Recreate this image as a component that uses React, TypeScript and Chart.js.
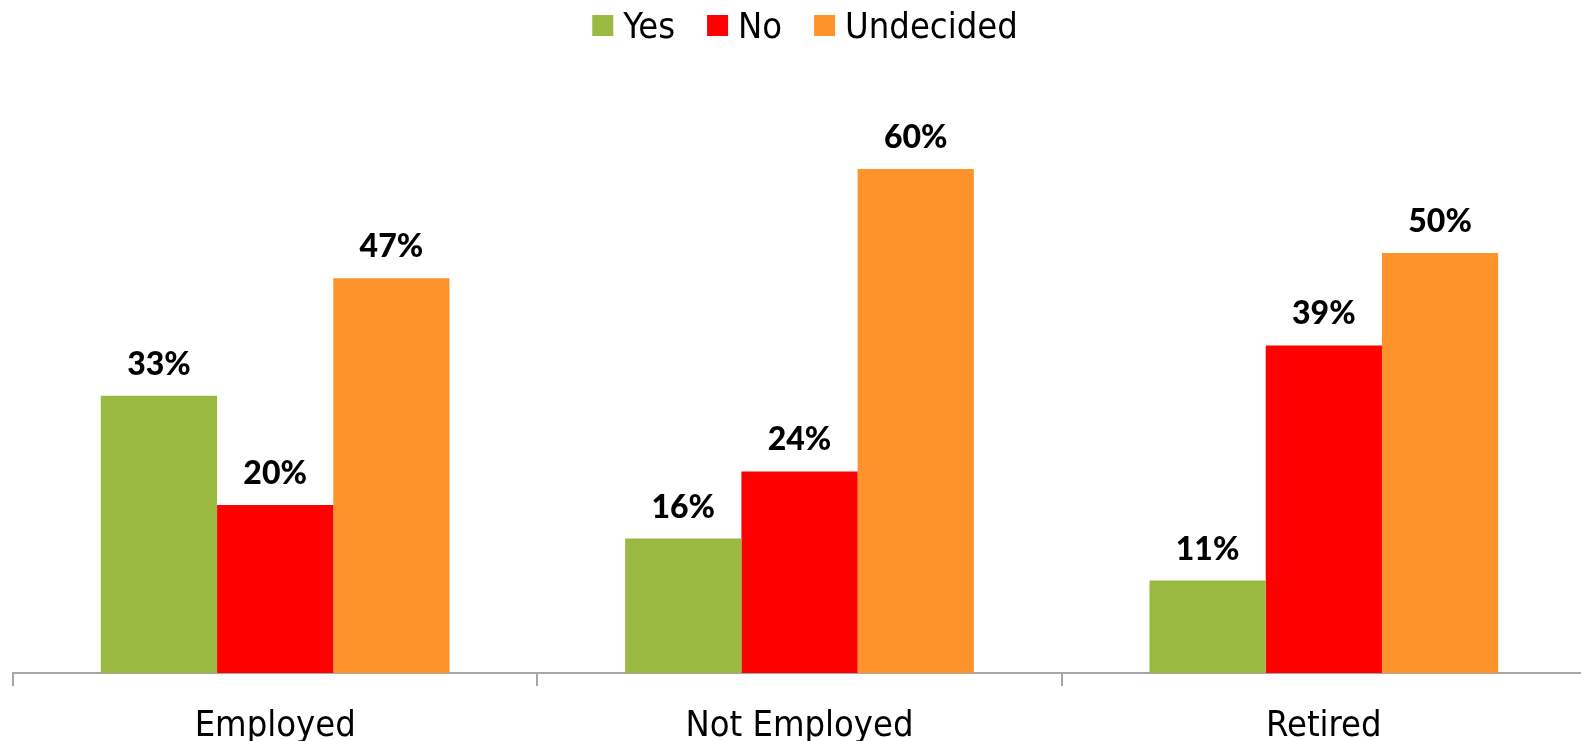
import { useEffect, useRef } from "react";
import { Chart, registerables } from "chart.js";

Chart.register(...registerables);

const categories = ["Employed", "Not Employed", "Retired"];
const seriesNames = ["Yes", "No", "Undecided"];
const yesValues = [33, 16, 11];
const noValues = [20, 24, 39];
const undecidedValues = [47, 60, 50];
const seriesColors = ["#99b940", "#ff0000", "#ff932b"];

const AXIS_FONT = "'DejaVu Sans Condensed', 'DejaVu Sans', sans-serif";
const LABEL_FONT = "Lato, 'Noto Sans', sans-serif";
const VIEW_W = 1581;
const VIEW_H = 741;
const CANVAS_W = 1586;
const CANVAS_H = 760;
const AREA_BOTTOM = 673;
const LEGEND_CENTER_X = 805;

const legendPlugin = {
  id: "customLegend",
  afterDraw(chart: any) {
    const ctx = chart.ctx as CanvasRenderingContext2D;
    ctx.save();
    ctx.font = `36px ${AXIS_FONT}`;
    const box = 21;
    const gapText = 10;
    const gapItem = 32;
    const items = chart.data.datasets.map((ds: any) => ({
      label: ds.label as string,
      color: ds.backgroundColor as string,
      w: box + gapText + ctx.measureText(ds.label).width,
    }));
    const total =
      items.reduce((s: number, i: any) => s + i.w, 0) + gapItem * (items.length - 1);
    let x = LEGEND_CENTER_X - total / 2;
    const baseline = 38;
    for (const it of items) {
      ctx.fillStyle = it.color;
      ctx.fillRect(x, 15, box, box);
      ctx.fillStyle = "#000";
      ctx.textBaseline = "alphabetic";
      ctx.textAlign = "left";
      ctx.fillText(it.label, x + box + gapText, baseline);
      x += it.w + gapItem;
    }
    ctx.restore();
  },
};

const dataLabelPlugin = {
  id: "dataLabels",
  afterDatasetsDraw(chart: any) {
    const ctx = chart.ctx as CanvasRenderingContext2D;
    ctx.save();
    ctx.font = `900 32px ${LABEL_FONT}`;
    ctx.fillStyle = "#000";
    ctx.textAlign = "center";
    ctx.textBaseline = "alphabetic";
    chart.data.datasets.forEach((ds: any, di: number) => {
      const meta = chart.getDatasetMeta(di);
      meta.data.forEach((bar: any, i: number) => {
        ctx.fillText(`${ds.data[i]}%`, bar.x, bar.y - 21);
      });
    });
    ctx.restore();
  },
};

export default function App() {
  const ref = useRef<HTMLCanvasElement>(null);
  useEffect(() => {
    if (!ref.current) return;
    const seriesValues = [yesValues, noValues, undecidedValues];
    const chart = new Chart(ref.current, {
      type: "bar",
      data: {
        labels: categories,
        datasets: seriesNames.map((name, i) => ({
          label: name,
          data: seriesValues[i],
          backgroundColor: seriesColors[i],
          borderWidth: 0,
          barPercentage: 1,
          categoryPercentage: 0.665,
        })),
      },
      options: {
        responsive: false,
        animation: false,
        layout: { padding: { top: 85, left: 13, right: 0, bottom: 0 } },
        plugins: {
          legend: { display: false },
          tooltip: { enabled: false },
        },
        scales: {
          x: {
            z: 1,
            border: { display: true, color: "#a6a6a6", width: 2 },
            grid: {
              display: true,
              drawOnChartArea: false,
              drawTicks: true,
              tickLength: 13,
              color: "#a6a6a6",
              lineWidth: 2,
            },
            ticks: {
              color: "#000",
              font: { family: AXIS_FONT, size: 36 },
              padding: 19,
              maxRotation: 0,
              autoSkip: false,
            },
            afterFit: (scale: any) => {
              scale.height = CANVAS_H - AREA_BOTTOM;
            },
          },
          y: {
            display: false,
            min: 0,
            max: 70,
          },
        },
      },
      plugins: [legendPlugin, dataLabelPlugin],
    });
    return () => chart.destroy();
  }, []);
  return (
    <div
      style={{
        position: "fixed",
        left: 0,
        top: 0,
        width: VIEW_W,
        height: VIEW_H,
        overflow: "hidden",
        background: "#fff",
      }}
    >
      <canvas
        ref={ref}
        width={CANVAS_W}
        height={CANVAS_H}
        style={{ display: "block", width: CANVAS_W, height: CANVAS_H }}
      />
    </div>
  );
}
